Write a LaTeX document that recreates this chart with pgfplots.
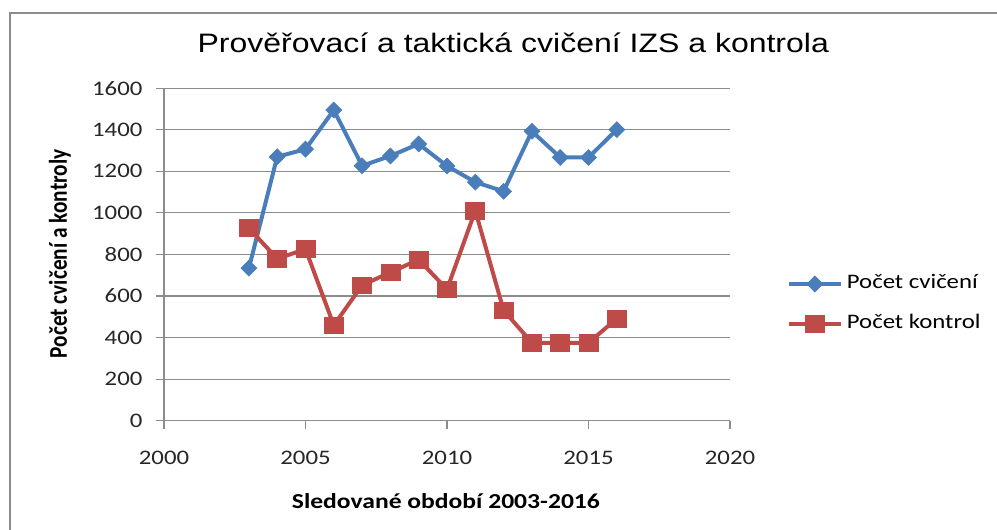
\documentclass[border=0pt]{standalone}
\usepackage{fontspec}
\setmainfont{Carlito}
\newfontfamily\titlefont{Liberation Sans}
\usepackage{graphicx}
\usepackage{pgfplots}
\pgfplotsset{compat=1.18}
\definecolor{cvic}{HTML}{4A7EBB}
\definecolor{kont}{HTML}{BE4B48}
\definecolor{mrizka}{HTML}{8C8C8C}
% the whole reference is stretched sideways a little
\newcommand\sx[1]{\scalebox{1.2}[1]{#1}}
\pgfkeys{/pgf/number format/1000 sep={}}

\begin{document}
\begin{tikzpicture}
\path[use as bounding box] (0,0) rectangle (747.75pt,397.5pt);
% chart area border (runs off the right and bottom edge)
\draw[mrizka, line width=1.5pt] (7.5pt,-5pt) -- (7.5pt,387.75pt) -- (760pt,387.75pt);
\begin{axis}[
  at={(123pt,82pt)}, anchor=south west,
  scale only axis, width=424.5pt, height=249.3pt,
  xmin=2000, xmax=2020, ymin=0, ymax=1600,
  xtick={2000,2005,...,2020}, ytick={0,200,...,1600},
  axis x line=bottom, axis y line=left,
  axis line style={mrizka, line width=0.8pt, -},
  ymajorgrids, grid style={mrizka, line width=0.8pt},
  tick style={mrizka, line width=0.8pt},
  tick align=outside, major tick length=6pt,
  ticklabel style={font=\fontsize{15.5}{18}\selectfont, text=black!85, inner sep=0pt},
  xticklabel shift=16.5pt, yticklabel shift=10pt,
  xticklabel={\sx{\pgfmathprintnumber[assume math mode=true]{\tick}}},
  yticklabel={\sx{\pgfmathprintnumber[assume math mode=true]{\tick}}},
  title={\titlefont\fontsize{20}{24}\selectfont\sx{Prověřovací a taktická cvičení IZS a kontrola}},
  title style={at={(0.617,1.112)}, anchor=center, inner sep=0pt},
  xlabel={\sx{\bfseries\fontsize{16}{19}\selectfont Sledované období 2003-2016}},
  xlabel style={at={(0.498,-0.2416)}, anchor=center, inner sep=0pt},
  ylabel={\scalebox{1}[1.2]{\bfseries\fontsize{16}{19}\selectfont Počet cvičení a kontroly}},
  ylabel style={at={(-0.184,0.502)}, anchor=center, inner sep=0pt},
  legend style={draw=none, fill=none, at={(1.1,0.351)}, anchor=west,
    inner sep=0pt, row sep=15pt, column sep=3pt,
    font=\fontsize{15.5}{18}\selectfont,
    nodes={inner sep=0pt, text height=11pt, text depth=4pt}},
  legend cell align=left,
  legend image code/.code={\draw[#1, mark repeat=2, mark phase=2]
    plot coordinates {(0pt,0pt) (19.5pt,0pt) (39pt,0pt)};},
]
\addplot[cvic, line width=3pt, mark=square*, mark size=4.2pt,
  mark options={rotate=45, line width=0.5pt}] coordinates {
  (2003,734) (2004,1270) (2005,1307) (2006,1495) (2007,1227) (2008,1274)
  (2009,1332) (2010,1226) (2011,1148) (2012,1104) (2013,1393) (2014,1267)
  (2015,1267) (2016,1401)};
\addlegendentry{\sx{Počet cvičení}}
\addplot[kont, line width=3pt, mark=square*, mark size=6.2pt,
  mark options={xscale=1.15, line width=0.5pt}] coordinates {
  (2003,927) (2004,779) (2005,826) (2006,459) (2007,652) (2008,714)
  (2009,775) (2010,632) (2011,1011) (2012,531) (2013,375) (2014,375)
  (2015,375) (2016,491)};
\addlegendentry{\sx{Počet kontrol}}
\end{axis}
\end{tikzpicture}
\end{document}
